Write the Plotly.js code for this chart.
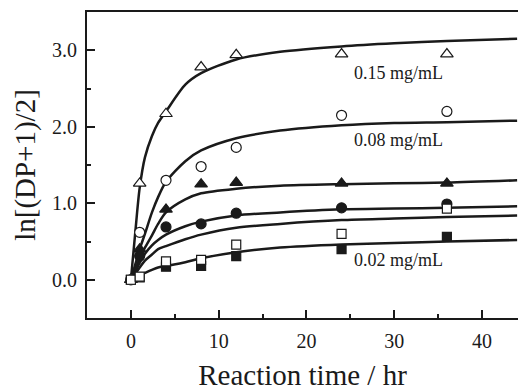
<!DOCTYPE html>
<html>
<head>
<meta charset="utf-8">
<script src="https://cdn.plot.ly/plotly-3.0.1.min.js"></script>
<style>html,body{margin:0;padding:0;background:#fff;overflow:hidden;}#chart{width:518px;height:391px;}</style>
</head>
<body>
<div id="chart"></div>
<script>
// Measured points
const tPts = [0, 1, 4, 8, 12, 24, 36];
const openTri   = [0, 1.26, 2.17, 2.78, 2.94, 2.95, 2.95];
const openCirc  = [0, 0.62, 1.30, 1.48, 1.73, 2.15, 2.20];
const filledTri = [0, 0.40, 0.92, 1.25, 1.27, 1.26, 1.26];
const filledCirc= [0, 0.31, 0.69, 0.73, 0.87, 0.94, 0.99];
const openSq    = [0, 0.04, 0.24, 0.26, 0.46, 0.60, 0.93];
const filledSq  = [0, 0.03, 0.17, 0.18, 0.31, 0.40, 0.56];

// Fitted curves
const tCurve = [0, 0.5, 1, 1.6, 2.4, 3.1, 4, 6.2, 8, 12, 17, 24, 30, 36, 44];
const curve1 = [0, 0.62, 1.20, 1.60, 1.88, 2.05, 2.20, 2.55, 2.70, 2.88, 2.98, 3.05, 3.09, 3.12, 3.15];
const curve2 = [0, 0.20, 0.40, 0.60, 0.88, 1.08, 1.28, 1.55, 1.69, 1.85, 1.95, 2.02, 2.05, 2.06, 2.08];
const curve3 = [0, 0.14, 0.28, 0.42, 0.58, 0.73, 0.88, 1.05, 1.13, 1.19, 1.23, 1.25, 1.26, 1.27, 1.30];
const curve4 = [0, 0.11, 0.22, 0.34, 0.45, 0.52, 0.59, 0.70, 0.76, 0.84, 0.88, 0.92, 0.93, 0.94, 0.96];
const curve5 = [0, 0.08, 0.16, 0.25, 0.33, 0.40, 0.44, 0.53, 0.59, 0.68, 0.73, 0.78, 0.80, 0.82, 0.84];
const curve6 = [0, 0.03, 0.06, 0.09, 0.13, 0.16, 0.18, 0.23, 0.28, 0.36, 0.42, 0.46, 0.48, 0.50, 0.52];

const labelTexts = ['0.15 mg/mL', '0.08 mg/mL', '0.02 mg/mL'];
const labelY = [2.70, 1.83, 0.26];
const xTitle = 'Reaction time / hr';
const yTitle = 'ln[(DP+1)/2]';

const FONT = '"Liberation Serif", "Times New Roman", serif';
const INK = '#1a1a1a';

const traces = [];
[curve1, curve2, curve3, curve4, curve5, curve6].forEach(c => {
  traces.push({x: tCurve, y: c, mode: 'lines', line: {color: INK, width: 2.5, shape: 'spline', smoothing: 0.8}, hoverinfo: 'skip'});
});
function pts(y, symbol, filled, size) {
  return {x: tPts, y: y, mode: 'markers', marker: {symbol: symbol, size: size, color: filled ? INK : '#ffffff', line: {color: INK, width: 1.2}}};
}
traces.push(pts(filledTri, 'triangle-up', true, 11));
traces.push(pts(filledCirc, 'circle', true, 10));
traces.push(pts(filledSq, 'square', true, 9));
traces.push(pts(openTri, 'triangle-up', false, 11));
traces.push(pts(openCirc, 'circle', false, 10));
traces.push(pts(openSq, 'square', false, 9));

const annotations = labelTexts.map((t, i) => ({
  x: 25.2, y: labelY[i], xref: 'x', yref: 'y', text: t, showarrow: false,
  xanchor: 'left', yanchor: 'middle', font: {family: FONT, size: 18, color: INK}
}));

const layout = {
  width: 518, height: 391,
  margin: {l: 87, r: 0, t: 12, b: 73},
  paper_bgcolor: '#fff', plot_bgcolor: '#fff',
  showlegend: false,
  font: {family: FONT, color: INK},
  xaxis: {
    range: [-5, 44.1], showgrid: false, zeroline: false,
    showline: true, linewidth: 2, linecolor: INK, mirror: true,
    ticks: 'inside', ticklen: 8, tickwidth: 2, tickcolor: INK,
    tickmode: 'linear', tick0: 0, dtick: 10,
    minor: {ticks: 'inside', ticklen: 4, tickwidth: 2, tickcolor: INK, dtick: 5, tick0: 0},
    tickfont: {family: FONT, size: 20, color: INK},
    ticklabelstandoff: 4,
    title: {text: xTitle, font: {family: FONT, size: 29, color: INK}, standoff: 14}
  },
  yaxis: {
    range: [-0.5, 3.5], showgrid: false, zeroline: false,
    showline: true, linewidth: 2, linecolor: INK,
    ticks: 'inside', ticklen: 8, tickwidth: 2, tickcolor: INK,
    tickmode: 'linear', tick0: 0, dtick: 1, tickformat: '.1f',
    minor: {ticks: 'inside', ticklen: 4, tickwidth: 2, tickcolor: INK, dtick: 0.5, tick0: 0},
    tickfont: {family: FONT, size: 20, color: INK},
    ticklabelstandoff: 4,
    title: {text: yTitle, font: {family: FONT, size: 29, color: INK}, standoff: 8}
  },
  annotations: annotations
};

Plotly.newPlot('chart', traces, layout, {displayModeBar: false, staticPlot: true});
</script>
</body>
</html>
